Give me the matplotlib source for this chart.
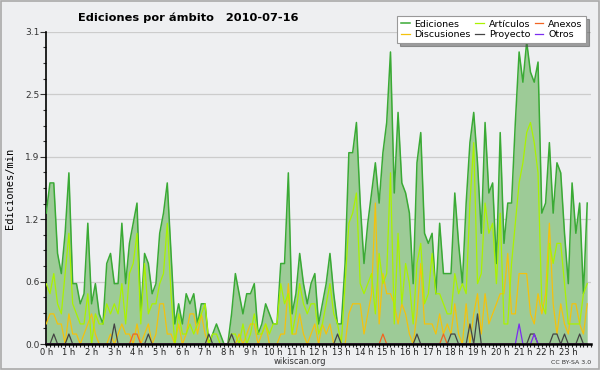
import numpy as np
import matplotlib
matplotlib.use("Agg")
import matplotlib.pyplot as plt
from matplotlib.ticker import FixedLocator, MultipleLocator

# ediciones/min cada 10 minutos (144 puntos, 0h - 23h50)
ediciones = [
    1.3, 1.6, 1.6, 0.9, 0.7, 1.1, 1.7, 0.6, 0.6, 0.4, 0.5, 1.2,
    0.4, 0.6, 0.3, 0.2, 0.8, 0.9, 0.6, 0.6, 1.2, 0.6, 1.0, 1.2,
    1.4, 0.3, 0.9, 0.8, 0.5, 0.6, 1.1, 1.3, 1.6, 0.9, 0.2, 0.4,
    0.2, 0.5, 0.4, 0.5, 0.2, 0.4, 0.4, 0.0, 0.1, 0.2, 0.1, 0.0,
    0.0, 0.3, 0.7, 0.5, 0.3, 0.5, 0.5, 0.6, 0.1, 0.2, 0.4, 0.3,
    0.2, 0.2, 0.8, 0.8, 1.7, 0.3, 0.5, 0.9, 0.6, 0.4, 0.6, 0.7,
    0.2, 0.4, 0.6, 0.9, 0.5, 0.2, 0.2, 0.8, 1.9, 1.9, 2.2, 1.4,
    0.8, 1.2, 1.5, 1.8, 1.4, 1.9, 2.2, 2.9, 1.5, 2.3, 1.6, 1.5,
    1.3, 0.6, 1.8, 2.1, 1.1, 1.0, 1.1, 0.5, 1.2, 0.7, 0.7, 0.7,
    1.5, 1.0, 0.6, 1.4, 2.0, 2.3, 1.8, 1.1, 2.2, 1.5, 1.6, 0.8,
    2.1, 1.0, 1.4, 1.4, 2.2, 2.9, 2.6, 3.0, 2.7, 2.6, 2.8, 1.3,
    1.4, 2.0, 1.3, 1.8, 1.7, 1.1, 0.6, 1.6, 1.1, 1.4, 0.5, 1.4,
]
articulos = [
    0.6, 0.5, 0.7, 0.4, 0.3, 0.7, 1.1, 0.4, 0.3, 0.2, 0.2, 0.5,
    0.0, 0.3, 0.2, 0.2, 0.4, 0.3, 0.4, 0.3, 0.6, 0.2, 0.7, 0.8,
    1.1, 0.2, 0.8, 0.3, 0.4, 0.4, 0.6, 0.7, 1.2, 0.5, 0.0, 0.3,
    0.1, 0.1, 0.2, 0.1, 0.2, 0.3, 0.4, 0.0, 0.1, 0.1, 0.0, 0.0,
    0.0, 0.1, 0.1, 0.0, 0.2, 0.0, 0.1, 0.3, 0.1, 0.1, 0.2, 0.1,
    0.2, 0.2, 0.6, 0.4, 0.5, 0.1, 0.3, 0.6, 0.4, 0.3, 0.4, 0.4,
    0.1, 0.2, 0.4, 0.6, 0.3, 0.2, 0.0, 0.6, 1.2, 1.3, 1.5, 0.6,
    0.5, 0.6, 0.7, 0.3, 0.9, 0.6, 0.7, 1.7, 0.2, 1.1, 0.4, 0.8,
    0.6, 0.2, 0.8, 1.0, 0.4, 0.5, 0.9, 0.5, 0.5, 0.4, 0.3, 0.3,
    0.7, 0.5, 0.6, 0.5, 1.4, 2.0, 0.6, 0.7, 1.4, 1.1, 1.2, 0.6,
    1.3, 0.2, 0.2, 0.8, 1.2, 1.6, 1.8, 2.1, 2.2, 2.0, 1.7, 0.4,
    0.3, 1.0, 0.8, 1.0, 1.0, 0.6, 0.2, 0.2, 0.2, 0.2, 0.5, 0.6,
]
discusiones = [
    0.2, 0.3, 0.3, 0.2, 0.2, 0.0, 0.3, 0.1, 0.1, 0.0, 0.1, 0.2,
    0.3, 0.1, 0.0, 0.0, 0.0, 0.1, 0.0, 0.1, 0.2, 0.1, 0.1, 0.0,
    0.2, 0.0, 0.1, 0.2, 0.0, 0.1, 0.4, 0.4, 0.1, 0.1, 0.0, 0.2,
    0.0, 0.1, 0.3, 0.3, 0.1, 0.3, 0.1, 0.0, 0.0, 0.0, 0.0, 0.0,
    0.0, 0.0, 0.0, 0.1, 0.0, 0.1, 0.2, 0.2, 0.0, 0.1, 0.2, 0.0,
    0.0, 0.0, 0.1, 0.1, 0.6, 0.1, 0.1, 0.3, 0.1, 0.0, 0.1, 0.2,
    0.0, 0.2, 0.1, 0.2, 0.0, 0.0, 0.0, 0.0, 0.3, 0.4, 0.4, 0.4,
    0.1, 0.3, 0.5, 1.4, 0.2, 0.7, 0.5, 0.5, 0.4, 0.2, 0.4, 0.3,
    0.1, 0.0, 0.3, 0.8, 0.2, 0.2, 0.2, 0.1, 0.3, 0.1, 0.2, 0.1,
    0.4, 0.1, 0.0, 0.4, 0.0, 0.3, 0.5, 0.1, 0.5, 0.2, 0.3, 0.4,
    0.5, 0.5, 0.9, 0.3, 0.3, 0.7, 0.7, 0.7, 0.3, 0.2, 0.5, 0.3,
    0.5, 1.2, 0.4, 0.1, 0.4, 0.2, 0.1, 0.4, 0.4, 0.2, 0.1, 0.4,
]
proyecto = [
    0, 0, 0.1, 0, 0, 0, 0.1, 0, 0, 0, 0, 0,
    0, 0, 0, 0, 0, 0, 0.2, 0, 0, 0, 0, 0,
    0, 0, 0, 0.1, 0, 0, 0, 0, 0, 0, 0, 0,
    0, 0, 0, 0, 0, 0, 0, 0.1, 0, 0, 0, 0,
    0, 0.1, 0, 0, 0, 0, 0, 0, 0, 0, 0, 0,
    0, 0, 0, 0, 0, 0, 0, 0, 0, 0, 0, 0,
    0, 0, 0, 0, 0, 0.1, 0, 0, 0, 0, 0, 0,
    0, 0, 0, 0, 0, 0, 0, 0, 0, 0, 0, 0,
    0, 0, 0.1, 0, 0, 0, 0, 0, 0, 0, 0, 0.1,
    0.1, 0, 0, 0, 0.2, 0, 0.3, 0, 0, 0, 0, 0,
    0, 0, 0, 0, 0, 0, 0, 0, 0.1, 0.1, 0, 0,
    0, 0, 0.1, 0.1, 0, 0.1, 0, 0, 0, 0.1, 0, 0,
]
anexos = [
    0, 0, 0, 0, 0, 0, 0, 0, 0, 0, 0, 0,
    0, 0, 0, 0, 0, 0, 0, 0, 0, 0, 0, 0.1,
    0.1, 0, 0, 0, 0, 0, 0, 0, 0, 0, 0, 0,
    0, 0, 0, 0, 0, 0, 0, 0, 0, 0, 0, 0,
    0, 0, 0, 0, 0, 0, 0, 0, 0, 0, 0, 0,
    0, 0, 0, 0, 0, 0, 0, 0, 0, 0, 0, 0,
    0, 0, 0, 0, 0, 0, 0, 0, 0, 0, 0, 0,
    0, 0, 0, 0, 0, 0.1, 0, 0, 0, 0, 0, 0,
    0, 0, 0, 0, 0, 0, 0, 0, 0, 0.1, 0, 0,
    0, 0, 0, 0, 0, 0, 0, 0, 0, 0, 0, 0,
    0, 0, 0, 0, 0, 0, 0, 0, 0, 0, 0, 0,
    0, 0, 0, 0, 0, 0, 0, 0, 0, 0, 0, 0,
]
otros = [
    0, 0, 0, 0, 0, 0, 0, 0, 0, 0, 0, 0,
    0, 0, 0, 0, 0, 0, 0, 0, 0, 0, 0, 0,
    0, 0, 0, 0, 0, 0, 0, 0, 0, 0, 0, 0,
    0, 0, 0, 0, 0, 0, 0, 0, 0, 0, 0, 0,
    0, 0, 0, 0, 0, 0, 0, 0, 0, 0, 0, 0,
    0, 0, 0, 0, 0, 0, 0, 0, 0, 0, 0, 0,
    0, 0, 0, 0, 0, 0, 0, 0, 0, 0, 0, 0,
    0, 0, 0, 0, 0, 0, 0, 0, 0, 0, 0, 0,
    0, 0, 0, 0, 0, 0, 0, 0, 0, 0, 0, 0,
    0, 0, 0, 0, 0, 0, 0, 0, 0, 0, 0, 0,
    0, 0, 0, 0, 0, 0.2, 0, 0, 0, 0.1, 0, 0,
    0, 0, 0, 0, 0, 0, 0, 0, 0, 0, 0, 0,
]

hour_labels = [f"{h} h" for h in range(24)]
y_ticks = [0.0, 0.62, 1.24, 1.86, 2.48, 3.1]

bg = "#eeeff1"
hours = np.arange(len(ediciones)) / 6.0

fig = plt.figure(figsize=(6, 3.7), dpi=100, facecolor=bg)
ax = fig.add_axes([0.077, 0.070, 0.908, 0.844])
ax.set_facecolor(bg)

# borde gris de toda la imagen
fig.patches.append(plt.Rectangle((0.001, 0.002), 0.997, 0.996, transform=fig.transFigure,
                                 fill=False, edgecolor="#aaaaaa", linewidth=1.2))

ax.fill_between(hours, ediciones, color="#9dcb97", linewidth=0, zorder=2)
ax.plot(hours, ediciones, color="#3aaa35", lw=1.1, label="Ediciones", zorder=3)
ax.plot(hours, discusiones, color="#f4c20d", lw=0.9, label="Discusiones", zorder=4)
ax.plot(hours, articulos, color="#aaf200", lw=0.9, label="Artículos", zorder=5)
ax.plot(hours, proyecto, color="#444444", lw=0.9, label="Proyecto", zorder=6)
ax.plot(hours, anexos, color="#f26522", lw=0.9, label="Anexos", zorder=6)
ax.plot(hours, otros, color="#7b2cf0", lw=0.9, label="Otros", zorder=7)

ax.set_xlim(0, 24)
ax.set_ylim(0, 3.1)
ax.yaxis.set_major_locator(FixedLocator(y_ticks))
ax.set_yticklabels([f"{v:.1f}" for v in y_ticks])
ax.yaxis.set_minor_locator(MultipleLocator(0.155))
ax.xaxis.set_major_locator(FixedLocator(range(24)))
ax.set_xticklabels(hour_labels)
ax.xaxis.set_minor_locator(MultipleLocator(1 / 6))
ax.grid(axis="y", color="#cccccc", lw=0.9, zorder=1)

for s in ["top", "right"]:
    ax.spines[s].set_visible(False)
ax.spines["left"].set_linewidth(1.2)
ax.spines["bottom"].set_linewidth(1.8)
ax.spines["bottom"].set_zorder(8)

ax.tick_params(axis="y", which="major", length=4, width=0.8, labelsize=6.5, colors="#333333", pad=1)
ax.tick_params(axis="y", which="minor", length=2.5, width=0.8, color="#333333")
ax.tick_params(axis="x", which="both", length=2.5, width=0.8, labelsize=6, colors="#222222", pad=0.5)

ax.set_ylabel("Ediciones/min", fontsize=7.5, family="DejaVu Sans Mono", labelpad=7)

fig.text(0.313, 0.953, "Ediciones por ámbito   2010-07-16", ha="center", va="center",
         fontsize=8.2, fontweight="bold")
fig.text(0.5, 0.022, "wikiscan.org", ha="center", va="center", fontsize=6, color="#333333")
fig.text(0.985, 0.020, "CC BY-SA 3.0", ha="right", va="center", fontsize=4.5, color="#333333")

leg = ax.legend(ncol=3, loc="upper right", bbox_to_anchor=(0.985, 0.97),
                bbox_transform=fig.transFigure, fontsize=6.8, frameon=True, fancybox=False,
                shadow=True, handlelength=0.9, handletextpad=0.5, columnspacing=0.5,
                labelspacing=0.15, borderpad=0.4)
leg.get_frame().set_edgecolor("#999999")
leg.get_frame().set_linewidth(0.8)
leg.set_zorder(10)

plt.savefig("out.png", dpi=100, facecolor=bg)
